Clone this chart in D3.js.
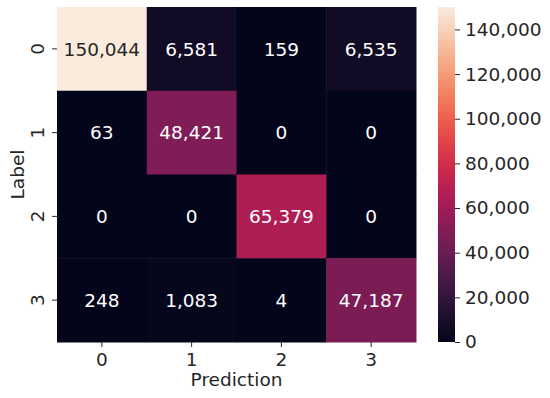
<!DOCTYPE html>
<html>
<head>
<meta charset="utf-8">
<script src="https://cdn.jsdelivr.net/npm/d3@7"></script>
<style>
body{margin:0;background:#fff;}
text{font-family:"DejaVu Sans",sans-serif;}
</style>
</head>
<body>
<script>
// confusion matrix, rows = Label, cols = Prediction
const labelCats = ["0", "1", "2", "3"];
const predCats = ["0", "1", "2", "3"];
const row0 = [150044, 6581, 159, 6535];
const row1 = [63, 48421, 0, 0];
const row2 = [0, 0, 65379, 0];
const row3 = [248, 1083, 4, 47187];
const cbarTicks = [0, 20000, 40000, 60000, 80000, 100000, 120000, 140000];
// rocket colormap stops
const rocketStops = ["#03051a", "#35193e", "#701f57", "#ad1759", "#e13342", "#f37651", "#f6b48f", "#faebdd"];

const rows = [row0, row1, row2, row3];
var cells = [];
rows.forEach(function(r, i){ r.forEach(function(v, j){ cells.push({row: labelCats[i], col: predCats[j], v: v}); }); });
var vmax = d3.max(cells, function(d){ return d.v; });

var W = 550, H = 398, fs = "18.5px";
var hm = {left: 57, top: 7, right: 416, bottom: 342};

var svg = d3.select("body").append("svg").attr("width", W).attr("height", H);

var x = d3.scaleBand().domain(predCats).range([hm.left, hm.right]);
var y = d3.scaleBand().domain(labelCats).range([hm.top, hm.bottom]);
var rocket = d3.interpolateRgbBasis(rocketStops);
var color = function(v){ return rocket(v / vmax); };

svg.selectAll(".cell")
    .data(cells)
  .enter().append("rect")
    .attr("class", "cell")
    .attr("x", function(d){ return x(d.col); })
    .attr("y", function(d){ return y(d.row); })
    .attr("width", x.bandwidth() + 0.5)
    .attr("height", y.bandwidth() + 0.5)
    .attr("fill", function(d){ return color(d.v); });

var fmt = d3.format(",");
svg.selectAll(".annot")
    .data(cells)
  .enter().append("text")
    .attr("class", "annot")
    .attr("x", function(d){ return x(d.col) + x.bandwidth() / 2; })
    .attr("y", function(d){ return y(d.row) + y.bandwidth() / 2; })
    .attr("dy", "0.36em")
    .attr("text-anchor", "middle")
    .attr("font-size", fs)
    .attr("fill", function(d){ return d3.hsl(color(d.v)).l > 0.6 ? "#262626" : "#fff"; })
    .text(function(d){ return fmt(d.v); });

// x axis
var xAxis = svg.append("g")
    .attr("transform", "translate(0," + hm.bottom + ")")
    .call(d3.axisBottom(x).tickSize(5).tickPadding(6));
xAxis.select(".domain").remove();
xAxis.selectAll("text").attr("font-size", fs).attr("fill", "#262626");
xAxis.selectAll("line").attr("stroke", "#262626");

// y axis
var yAxis = svg.append("g")
    .attr("transform", "translate(" + hm.left + ",0)")
    .call(d3.axisLeft(y).tickSize(5).tickPadding(6));
yAxis.select(".domain").remove();
yAxis.selectAll("line").attr("stroke", "#262626");
yAxis.selectAll("text")
    .attr("font-size", fs).attr("fill", "#262626")
    .attr("text-anchor", "middle")
    .attr("x", 0).attr("dy", 0)
    .attr("transform", "translate(-20,0) rotate(-90)")
    .attr("dominant-baseline", "central");

svg.append("text")
    .attr("x", (hm.left + hm.right) / 2)
    .attr("y", 386)
    .attr("text-anchor", "middle")
    .attr("font-size", fs)
    .attr("fill", "#262626")
    .text("Prediction");

svg.append("text")
    .attr("transform", "translate(24," + (hm.top + hm.bottom) / 2 + ") rotate(-90)")
    .attr("text-anchor", "middle")
    .attr("font-size", fs)
    .attr("fill", "#262626")
    .text("Label");

// colorbar
var cb = {left: 438, right: 455};
var cy = d3.scaleLinear().domain([0, vmax]).range([hm.bottom, hm.top]);
var grad = svg.append("defs").append("linearGradient")
    .attr("id", "cbgrad").attr("x1", 0).attr("y1", 1).attr("x2", 0).attr("y2", 0);
d3.range(0, 1.0001, 0.02).forEach(function(t){
  grad.append("stop").attr("offset", t).attr("stop-color", rocket(t));
});
svg.append("rect")
    .attr("x", cb.left).attr("y", hm.top)
    .attr("width", cb.right - cb.left).attr("height", hm.bottom - hm.top)
    .attr("fill", "url(#cbgrad)");

var cAxis = svg.append("g")
    .attr("transform", "translate(" + cb.right + ",0)")
    .call(d3.axisRight(cy).tickValues(cbarTicks).tickFormat(fmt).tickSize(5).tickPadding(5));
cAxis.select(".domain").remove();
cAxis.selectAll("line").attr("stroke", "#262626");
cAxis.selectAll("text").attr("font-size", fs).attr("fill", "#262626");
</script>
</body>
</html>
